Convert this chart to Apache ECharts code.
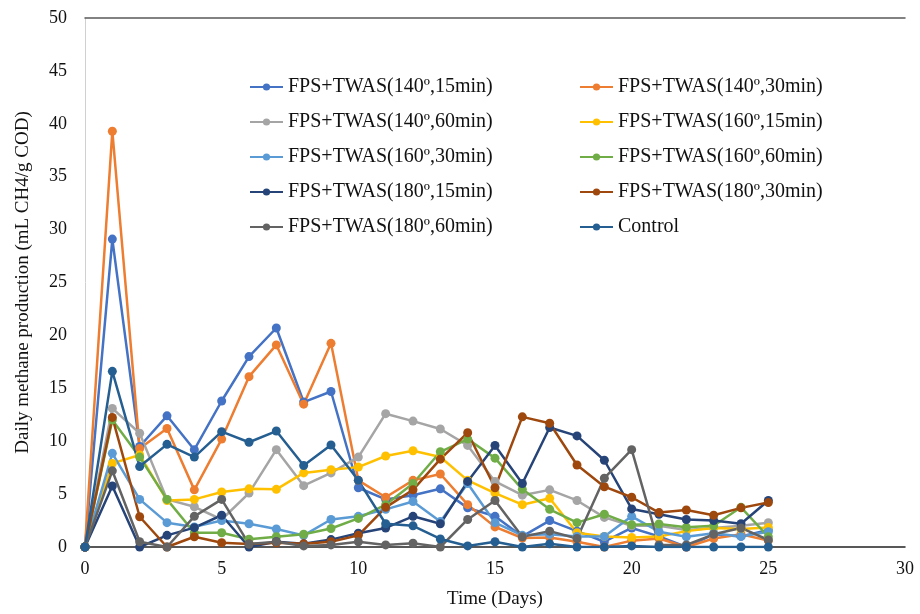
<!DOCTYPE html>
<html>
<head>
<meta charset="utf-8">
<script src="https://cdn.jsdelivr.net/npm/echarts@6/dist/echarts.min.js"></script>
<style>html,body{margin:0;padding:0;background:#fff}#chart{width:920px;height:614px}</style>
</head>
<body>
<div id="chart"></div>
<script>
const days = [0,1,2,3,4,5,6,7,8,9,10,11,12,13,14,15,16,17,18,19,20,21,22,23,24,25];
const seriesNames = [
  'FPS+TWAS(140º,15min)','FPS+TWAS(140º,30min)',
  'FPS+TWAS(140º,60min)','FPS+TWAS(160º,15min)',
  'FPS+TWAS(160º,30min)','FPS+TWAS(160º,60min)',
  'FPS+TWAS(180º,15min)','FPS+TWAS(180º,30min)',
  'FPS+TWAS(180º,60min)','Control'
];
const s140_15 = [0,29.1,9.5,12.4,9.2,13.8,18.0,20.7,13.7,14.7,5.6,4.5,4.9,5.5,3.7,2.9,1.0,2.5,1.5,0.5,1.8,1.0,0.0,1.2,1.0,1.6];
const s140_30 = [0,39.3,9.3,11.2,5.4,10.2,16.1,19.1,13.5,19.25,6.3,4.7,6.3,6.9,4.0,1.9,0.85,0.9,0.5,0.0,0.6,0.8,0.0,0.8,1.2,0.6];
const s140_60 = [0,13.1,10.75,4.5,3.8,2.6,5.1,9.2,5.8,7.0,8.5,12.6,11.9,11.15,9.6,6.2,4.9,5.4,4.4,2.8,2.0,2.0,1.6,1.8,2.0,2.3];
const s160_15 = [0,7.9,8.7,4.4,4.5,5.2,5.5,5.45,7.0,7.3,7.55,8.6,9.1,8.5,6.3,5.1,4.0,4.6,1.35,1.0,0.9,1.0,1.5,1.8,1.7,1.85];
const s160_30 = [0,8.85,4.5,2.3,1.9,2.5,2.2,1.7,1.1,2.6,2.9,3.56,4.3,2.4,6.0,2.3,1.1,1.2,1.0,1.0,2.9,1.45,0.97,1.3,1.0,1.45];
const s160_60 = [0,12.0,8.5,4.5,1.35,1.35,0.73,0.97,1.2,1.75,2.7,4.0,6.0,9.0,10.2,8.4,5.45,3.56,2.3,3.1,2.1,2.17,1.86,2.0,3.75,0.97];
const s180_15 = [0,5.77,0,1.1,1.83,3.0,0.0,0.5,0.3,0.7,1.3,1.8,2.9,2.2,6.2,9.6,6.0,11.3,10.5,8.2,3.6,3.1,2.6,2.5,2.2,4.4];
const s180_30 = [0,12.25,2.86,0,0.97,0.4,0.28,0.4,0.3,0.5,1.1,3.75,5.4,8.3,10.8,5.6,12.3,11.7,7.75,5.7,4.7,3.25,3.5,3.0,3.7,4.2];
const s180_60 = [0,7.2,0.5,0,2.9,4.5,0.28,0.5,0.1,0.2,0.5,0.2,0.35,0.0,2.6,4.4,0.97,1.5,0.8,6.5,9.2,0.2,0.2,1.2,1.8,0.66];
const control = [0,16.6,7.6,9.7,8.5,10.9,9.9,10.96,7.7,9.64,6.3,2.2,2.0,0.76,0.1,0.5,0.0,0.3,0.0,0.0,0.1,0,0,0,0,0];
const allValues = [s140_15,s140_30,s140_60,s160_15,s160_30,s160_60,s180_15,s180_30,s180_60,control];
const colors = ['#4472C4','#ED7D31','#A5A5A5','#FFC000','#5B9BD5','#70AD47','#264478','#9E480E','#636363','#255E91'];

const font = '"Liberation Serif","Times New Roman",serif';
const chart = echarts.init(document.getElementById('chart'), null, {renderer:'canvas'});
const series = allValues.map((vals, i) => ({
  name: seriesNames[i],
  type: 'line',
  data: vals.map((v, j) => [days[j], v]),
  symbol: 'circle',
  symbolSize: 9,
  color: colors[i],
  lineStyle: {width: 2.5, color: colors[i]},
  itemStyle: {color: colors[i]},
  animation: false
}));
const legendCommon = {
  orient: 'vertical',
  itemWidth: 33,
  itemHeight: 9,
  itemGap: 15,
  textStyle: {fontFamily: font, fontSize: 20, color: '#111'},
  top: 72
};
chart.setOption({
  backgroundColor: '#fff',
  animation: false,
  grid: {left: 85, right: 15, top: 18, bottom: 67},
  legend: [
    Object.assign({}, legendCommon, {left: 244, data: seriesNames.filter((_, i) => i % 2 === 0)}),
    Object.assign({}, legendCommon, {left: 574, data: seriesNames.filter((_, i) => i % 2 === 1)})
  ],
  xAxis: [{
    type: 'value', min: 0, max: 30, interval: 5,
    name: 'Time (Days)', nameLocation: 'middle', nameGap: 43,
    nameTextStyle: {fontFamily: font, fontSize: 19, color: '#111'},
    axisLine: {show: true, lineStyle: {color: '#222', width: 1.5}},
    axisTick: {show: false},
    splitLine: {show: false},
    axisLabel: {fontFamily: font, fontSize: 18, color: '#111', margin: 13}
  }, {
    type: 'value', min: 0, max: 30, interval: 5, position: 'top',
    axisLine: {show: true, lineStyle: {color: '#595959', width: 1.5}},
    axisTick: {show: false}, axisLabel: {show: false}, splitLine: {show: false}
  }],
  yAxis: {
    type: 'value', min: 0, max: 50, interval: 5,
    name: 'Daily methane production (mL CH4/g COD)', nameLocation: 'middle', nameGap: 52,
    nameTextStyle: {fontFamily: font, fontSize: 19, color: '#111'},
    axisLine: {show: true, lineStyle: {color: '#d0d0d0', width: 1}},
    axisTick: {show: false},
    splitLine: {show: false},
    axisLabel: {fontFamily: font, fontSize: 18, color: '#111', margin: 18}
  },
  series: series
});
</script>
</body>
</html>
